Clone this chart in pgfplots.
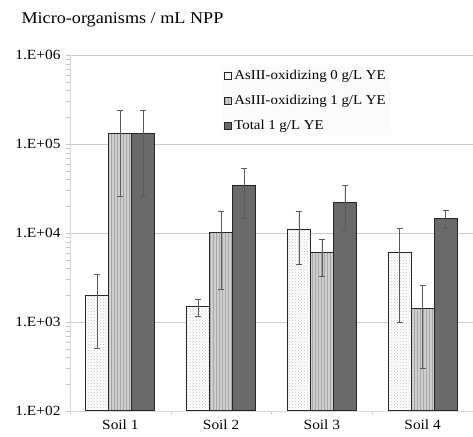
\documentclass[border=0pt]{standalone}
\usepackage{pgfplots}
\pgfplotsset{compat=1.18}
\usepackage{pgfplotstable}
\usepackage{fontspec}
\setmainfont[FakeStretch=1.1]{Liberation Serif}
\usetikzlibrary{patterns}
\definecolor{darkbar}{HTML}{6A6A6A}
\definecolor{midbar}{HTML}{CFCFCF}
\pgfplotstableread{
x y ep em
0 2000 1400 1500
1 1500 300 350
2 11000 6500 6600
3 6000 5200 5000
}\sA
\pgfplotstableread{
x y ep em
0 130000 110000 104000
1 10000 7500 7700
2 6000 2500 2700
3 1400 1150 1100
}\sB
\pgfplotstableread{
x y ep em
0 130000 110000 104000
1 34000 19000 19500
2 22000 12000 11300
3 14500 3500 3300
}\sC
\pgfplotsset{myerr/.style={error bars/.cd, y dir=both, y explicit,
  error bar style={black!65, line width=0.7pt},
  error mark options={rotate=90, mark size=3pt, black!65, line width=0.7pt}}}
\begin{document}
\begin{tikzpicture}
\begin{axis}[name=ax,
  scale only axis, width=403pt, height=356pt,
  ymode=log, ymin=100, ymax=1e6, log origin=infty,
  xmin=-0.5, xmax=3.5,
  ybar=0pt, bar width=23pt,
  xtick={0,1,2,3}, xticklabels={Soil 1,Soil 2,Soil 3,Soil 4},
  major x tick style={draw=none},
  minor xtick={-0.5,0.5,1.5,2.5,3.5},
  minor x tick style={gray!35}, minor tick length=4pt,
  ytick={100,1000,10000,100000,1000000},
  yticklabels={1.E+02,1.E+03,1.E+04,1.E+05,1.E+06},
  tick align=outside, major tick length=4pt,
  ytick style={gray!45},
  axis x line*=bottom, axis y line*=left,
  axis line style={gray!30, -},
  ymajorgrids, grid style={gray!40, line width=0.6pt},
  tick label style={font=\fontsize{14}{16}\selectfont},
  yticklabel style={xshift=-2pt},
  xticklabel style={yshift=-1pt},
  legend style={at={(0.375,0.968)}, anchor=north west, draw=none, fill=gray!3,
    font=\fontsize{13.5}{16}\selectfont, row sep=10pt, cells={anchor=west}},
  legend image code/.code={\draw[#1] (0pt,-3.5pt) rectangle (7pt,3.5pt);},
]
\addplot[fill=white, draw=black!85, line width=1pt,
  postaction={pattern=crosshatch dots, pattern color=gray!45}, myerr]
  table[x=x, y=y, y error plus=ep, y error minus=em]{\sA};
\addplot[fill=midbar, draw=black!85, line width=1pt,
  postaction={pattern=vertical lines, pattern color=gray!70}, myerr]
  table[x=x, y=y, y error plus=ep, y error minus=em]{\sB};
\addplot[fill=darkbar, draw=black!85, line width=1pt, myerr]
  table[x=x, y=y, y error plus=ep, y error minus=em]{\sC};
\legend{AsIII-oxidizing 0 g/L YE, AsIII-oxidizing 1 g/L YE, Total 1 g/L YE}
\end{axis}
\node[anchor=west, font=\fontsize{16.5}{19}\selectfont] at ([xshift=-52pt,yshift=35pt]ax.north west) {Micro-organisms / mL NPP};
\pgfresetboundingbox
\path[use as bounding box] ([xshift=-70pt,yshift=-25pt]ax.south west) rectangle ([yshift=55pt]ax.north east);
\end{tikzpicture}
\end{document}
